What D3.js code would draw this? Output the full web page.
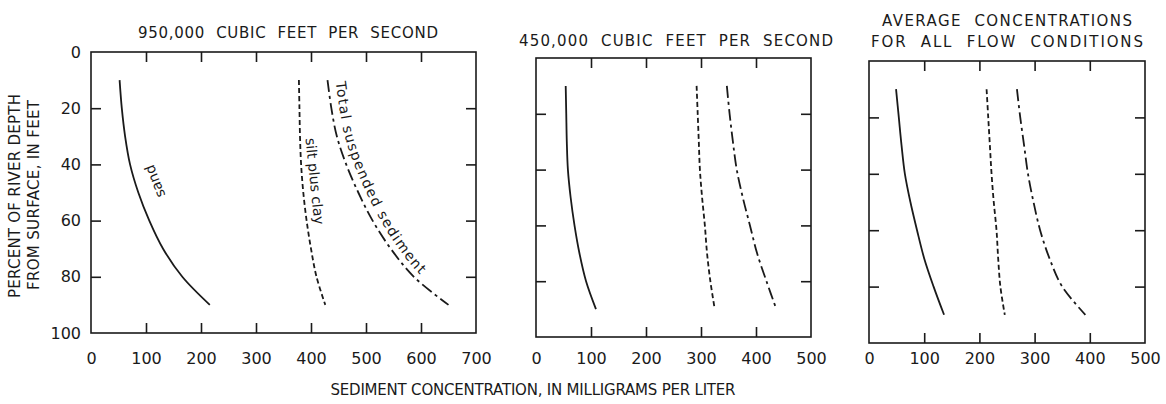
<!DOCTYPE html>
<html>
<head>
<meta charset="utf-8">
<script src="https://cdn.jsdelivr.net/npm/d3@7"></script>
<style>
  body { margin: 0; background: #fff; }
  svg text { font-family: "DejaVu Sans", sans-serif; fill: #1a1a1a; }
</style>
</head>
<body>
<svg id="chart" width="1166" height="404"></svg>
<script>
// depth below surface, percent of river depth
const depths = [10, 20, 30, 40, 50, 60, 70, 80, 90];

// 950,000 cfs
const sand950 = [52, 56, 62, 71, 86, 106, 131, 166, 216];
const silt950 = [378, 379, 380, 382, 386, 392, 400, 410, 426];
const total950 = [430, 437, 447, 464, 486, 512, 545, 587, 650];

// 450,000 cfs
const sand450 = [54, 55, 56, 58, 63, 70, 79, 91, 109];
const silt450 = [292, 294, 296, 298, 302, 307, 311, 317, 325];
const total450 = [347, 352, 358, 365, 376, 389, 402, 419, 437];

// average for all flow conditions
const sandAvg = [49, 54, 59, 65, 75, 87, 100, 117, 136];
const siltAvg = [213, 216, 219, 222, 226, 231, 234, 238, 246];
const totalAvg = [268, 274, 281, 288, 298, 310, 327, 350, 392];

const yTickValues = [0, 20, 40, 60, 80, 100];
const xTicks700 = [0, 100, 200, 300, 400, 500, 600, 700];
const xTicks500 = [0, 100, 200, 300, 400, 500];

const svg = d3.select('#chart');
const ink = '#1a1a1a';

const panels = [
  { left: 91, right: 476, top: 52, bottom: 333, xTicks: xTicks700,
    sand: sand950, silt: silt950, total: total950,
    title: ['950,000  CUBIC  FEET  PER  SECOND'], titleX: 288, titleY: [38], titleW: [300] },
  { left: 536, right: 811, top: 58, bottom: 337, xTicks: xTicks500,
    sand: sand450, silt: silt450, total: total450,
    title: ['450,000  CUBIC  FEET  PER  SECOND'], titleX: 676, titleY: [46], titleW: [314] },
  { left: 869, right: 1145, top: 61, bottom: 343, xTicks: xTicks500,
    sand: sandAvg, silt: siltAvg, total: totalAvg,
    title: ['AVERAGE  CONCENTRATIONS', 'FOR  ALL  FLOW  CONDITIONS'], titleX: 1007, titleY: [26, 47], titleW: [250, 272] }
];

function styleAxis(g) {
  g.select('.domain').remove();
  g.selectAll('.tick line').attr('stroke', ink).attr('stroke-width', 1.6);
}

panels.forEach((p, i) => {
  const xmax = p.xTicks[p.xTicks.length - 1];
  const x = d3.scaleLinear().domain([0, xmax]).range([p.left, p.right]);
  const y = d3.scaleLinear().domain([0, 100]).range([p.top, p.bottom]);
  const inner = p.xTicks.slice(1, -1);
  const innerY = yTickValues.slice(1, -1);

  // inward ticks on all four sides
  svg.append('g').attr('transform', `translate(0,${p.bottom})`)
    .call(d3.axisBottom(x).tickValues(inner).tickSize(-10).tickFormat('')).call(styleAxis);
  svg.append('g').attr('transform', `translate(0,${p.top})`)
    .call(d3.axisTop(x).tickValues(inner).tickSize(-10).tickFormat('')).call(styleAxis);
  svg.append('g').attr('transform', `translate(${p.left},0)`)
    .call(d3.axisLeft(y).tickValues(innerY).tickSize(-10).tickFormat('')).call(styleAxis);
  svg.append('g').attr('transform', `translate(${p.right},0)`)
    .call(d3.axisRight(y).tickValues(innerY).tickSize(-10).tickFormat('')).call(styleAxis);

  // frame
  svg.append('rect')
    .attr('x', p.left).attr('y', p.top)
    .attr('width', p.right - p.left).attr('height', p.bottom - p.top)
    .attr('fill', 'none').attr('stroke', ink).attr('stroke-width', 1.6);

  // x tick labels
  const xl = svg.append('g').attr('transform', 'translate(0,353)')
    .call(d3.axisBottom(x).tickValues(p.xTicks).tickSize(0).tickPadding(0));
  xl.select('.domain').remove();
  xl.attr('font-size', 16).attr('font-family', null);

  // y tick labels only on the first panel
  if (i === 0) {
    const yl = svg.append('g').attr('transform', `translate(${p.left},0)`)
      .call(d3.axisLeft(y).tickValues(yTickValues).tickSize(0).tickPadding(10));
    yl.select('.domain').remove();
    yl.attr('font-size', 16).attr('font-family', null);
  }

  // curves
  const line = (vals) => d3.line()
    .x((d, k) => x(vals[k]))
    .y((d) => y(d))
    .curve(d3.curveCatmullRom)(depths);

  svg.append('path').attr('d', line(p.sand))
    .attr('fill', 'none').attr('stroke', ink).attr('stroke-width', 1.8);
  svg.append('path').attr('d', line(p.silt))
    .attr('fill', 'none').attr('stroke', ink).attr('stroke-width', 1.8)
    .attr('stroke-dasharray', '5,3');
  svg.append('path').attr('d', line(p.total))
    .attr('fill', 'none').attr('stroke', ink).attr('stroke-width', 1.8)
    .attr('stroke-dasharray', '12,4,3,4');

  // panel titles
  p.title.forEach((t, k) => {
    svg.append('text')
      .attr('x', p.titleX).attr('y', p.titleY[k])
      .attr('text-anchor', 'middle')
      .attr('font-size', 15)
      .attr('textLength', p.titleW[k])
      .attr('lengthAdjust', 'spacing')
      .style('white-space', 'pre')
      .text(t);
  });

  // curve labels on the first panel
  if (i === 0) {
    svg.append('text')
      .attr('transform', `translate(${x(116)},${y(46)}) rotate(-111)`)
      .attr('text-anchor', 'middle').attr('dy', '0.35em')
      .attr('font-size', 14)
      .text('sand');

    svg.append('text')
      .attr('transform', `translate(${x(407)},${y(46)}) rotate(84)`)
      .attr('text-anchor', 'middle').attr('dy', '0.35em')
      .attr('font-size', 14)
      .text('silt plus clay');

    const offsetLine = d3.line()
      .x((d, k) => x(p.total[k]) + 8)
      .y((d) => y(d))
      .curve(d3.curveCatmullRom);
    svg.append('defs').append('path')
      .attr('id', 'totalLabelPath')
      .attr('d', offsetLine(depths));
    svg.append('text')
      .attr('font-size', 14)
      .append('textPath')
      .attr('href', '#totalLabelPath')
      .attr('startOffset', 2)
      .attr('textLength', 214)
      .attr('lengthAdjust', 'spacing')
      .text('Total suspended sediment');
  }
});

// axis titles
svg.append('text')
  .attr('x', 533).attr('y', 395)
  .attr('text-anchor', 'middle').attr('font-size', 15)
  .attr('textLength', 405).attr('lengthAdjust', 'spacing')
  .text('SEDIMENT CONCENTRATION, IN MILLIGRAMS PER LITER');

svg.append('text')
  .attr('transform', 'translate(20,196) rotate(-90)')
  .attr('text-anchor', 'middle').attr('font-size', 15)
  .attr('textLength', 204).attr('lengthAdjust', 'spacing')
  .text('PERCENT OF RIVER DEPTH');

svg.append('text')
  .attr('transform', 'translate(39,195) rotate(-90)')
  .attr('text-anchor', 'middle').attr('font-size', 15)
  .attr('textLength', 190).attr('lengthAdjust', 'spacing')
  .text('FROM SURFACE, IN FEET');
</script>
</body>
</html>
